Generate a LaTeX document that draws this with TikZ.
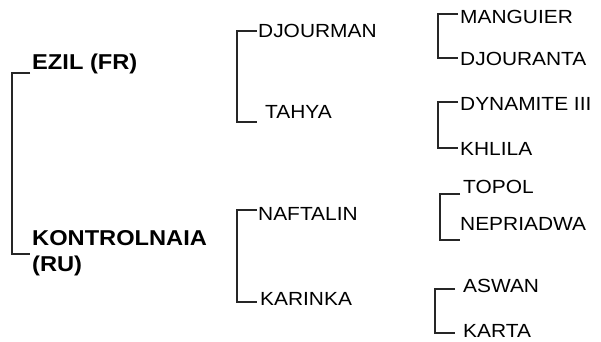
\documentclass[tikz,border=0pt]{standalone}
\usepackage{fontspec}
\setmainfont{Liberation Sans}[FakeStretch=1.1]

\begin{document}
\begin{tikzpicture}[x=1pt, y=-1pt,
		sire/.style={anchor=base west, inner sep=0pt, align=left, font=\bfseries\fontsize{21.5}{26}\selectfont},
		foal/.style={anchor=base west, inner sep=0pt, font=\fontsize{19}{19}\selectfont},
		link/.style={line width=2.5pt, draw=black!85}]
		\useasboundingbox (0,0) rectangle (601,341);
		% Define horses
		\node[sire] (ezil) at (32,69) {EZIL (FR)};
		\node[sire, anchor=north west] (kontrol) at (32,230) {KONTROLNAIA\\(RU)};
		\node[foal] (djourman) at (258,37) {DJOURMAN};
		\node[foal] (tahya) at (265,118) {TAHYA};
		\node[foal] (naftalin) at (258,220) {NAFTALIN};
		\node[foal] (karinka) at (260,305) {KARINKA};
		\node[foal] (manguier) at (460,23) {MANGUIER};
		\node[foal] (djouranta) at (460,65) {DJOURANTA};
		\node[foal] (dynamite) at (460,110) {DYNAMITE III};
		\node[foal] (khlila) at (460,155) {KHLILA};
		\node[foal] (topol) at (463,193) {TOPOL};
		\node[foal] (nepriadwa) at (460,230) {NEPRIADWA};
		\node[foal] (aswan) at (463,292) {ASWAN};
		\node[foal] (karta) at (463,337) {KARTA};
		
		% Define bracket ends
		\coordinate (e1) at (30,73);
		\coordinate (e2) at (30,254);
		\coordinate (e3) at (257,31);
		\coordinate (e4) at (257,122);
		\coordinate (e5) at (257,210);
		\coordinate (e6) at (257,302);
		\coordinate (e7) at (458,14);
		\coordinate (e8) at (458,58);
		\coordinate (e9) at (458,102);
		\coordinate (e10) at (458,148);
		\coordinate (e11) at (460,194);
		\coordinate (e12) at (460,240);
		\coordinate (e13) at (455,289);
		\coordinate (e14) at (455,333);
		
		% Draw brackets
		\draw[link] (e1) -| (12,254) -- (e2);
		\draw[link] (e3) -| (237,122) -- (e4);
		\draw[link] (e5) -| (237,302) -- (e6);
		\draw[link] (e7) -| (438,58) -- (e8);
		\draw[link] (e9) -| (438,148) -- (e10);
		\draw[link] (e11) -| (440,240) -- (e12);
		\draw[link] (e13) -| (435,333) -- (e14);
	\end{tikzpicture}
\end{document}
